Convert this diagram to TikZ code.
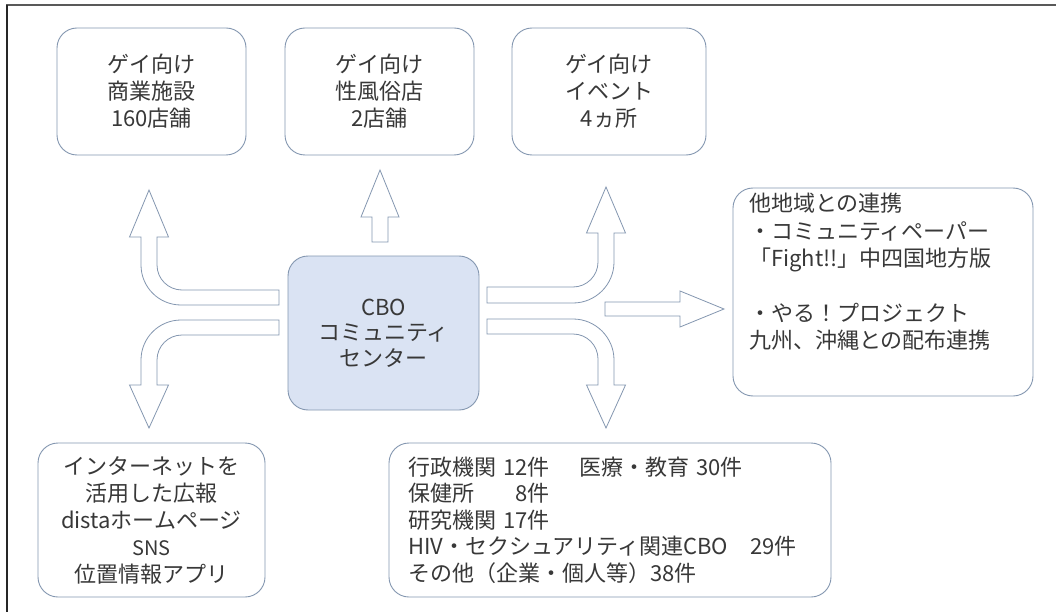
\documentclass[tikz,border=0pt]{standalone}
\usepackage{fontspec}
\setmainfont{Noto Sans CJK JP}
\definecolor{edge}{HTML}{8497B0}
\definecolor{cfill}{HTML}{DAE3F3}
\definecolor{txt}{HTML}{383838}
\begin{document}
\begin{tikzpicture}[x=1pt,y=-1pt,
  box/.style={draw=edge,line width=0.9pt,rounded corners=20pt,fill=white,
    inner sep=0pt,align=center,text=txt,font=\fontsize{22}{27}\selectfont},
  barrow/.style={draw=edge,line width=0.8pt,fill=white,line join=miter}]
\useasboundingbox (0,0) rectangle (1056,612);
\fill[white] (0,0) rectangle (1056,612);
% frame
\draw[gray!70!black,line width=1.5pt] (6,5) -- (1056,5);
\draw[black!85,line width=1.5pt] (7,5) -- (7,612);
% top boxes
\node[box,minimum width=189pt,minimum height=127pt] (b1) at (151.5,91.5) {ゲイ向け\\商業施設\\160店舗};
\node[box,minimum width=189pt,minimum height=127pt] (b2) at (379.5,91.5) {ゲイ向け\\性風俗店\\2店舗};
\node[box,minimum width=194pt,minimum height=127pt] (b3) at (609,91.5) {ゲイ向け\\イベント\\4ヵ所};
% center
\node[box,fill=cfill,minimum width=191pt,minimum height=154pt,font=\fontsize{22}{25.5}\selectfont] (c) at (383.5,333) {CBO\\コミュニティ\\センター};
% right box
\node[box,minimum width=300pt,minimum height=208pt] (r) at (883,292) {};
\node[anchor=north west,inner sep=0pt,align=left,text=txt,font=\fontsize{22}{27.4}\selectfont] (rt) at (749,193)
  {他地域との連携\\・コミュニティペーパー\\「Fight!!」中四国地方版\\[27.4pt]・やる！プロジェクト\\九州、沖縄との配布連携};
% bottom left
\node[box,minimum width=227pt,minimum height=154pt] (bl) at (151.5,520)
  {インターネットを\\活用した広報\\distaホームページ\\{\fontsize{20}{24}\selectfont SNS}\\位置情報アプリ};
% bottom right
\node[box,minimum width=442pt,minimum height=154pt,text width=404pt,align=left,inner xsep=19pt,font=\fontsize{22}{26.5}\selectfont] (br) at (610,520)
  {行政機関 12件　 医療・教育 30件\\保健所　 \phantom{1}8件\\研究機関 17件\\HIV・セクシュアリティ関連CBO　29件\\その他（企業・個人等）38件};
% block arrows
\draw[barrow] (372,242) -- (372,217) -- (361,217) -- (380,170) -- (399,217) -- (388,217) -- (388,242) -- cycle;
\draw[barrow] (279,290) -- (182,290) .. controls (168.2,290) and (157,278.8) .. (157,265) -- (157,237) -- (168.5,237) -- (149,190) -- (129.5,237) -- (141,237) -- (141,265) .. controls (141,287.1) and (158.9,305) .. (181,305) -- (279,305) -- cycle;
\draw[barrow] (279,320) -- (181,320) .. controls (158.9,320) and (141,337.9) .. (141,360) -- (141,385) -- (129.5,385) -- (149,428) -- (168.5,385) -- (157,385) -- (157,360) .. controls (157,346.2) and (168.2,335) .. (182,335) -- (279,335) -- cycle;
\draw[barrow] (487,287) -- (573,287) .. controls (586.8,287) and (598,275.8) .. (598,262) -- (598,233) -- (586.5,233) -- (606,187) -- (625.5,233) -- (614,233) -- (614,262) .. controls (614,284.6) and (595.6,303) .. (573,303) -- (487,303) -- cycle;
\draw[barrow] (487,319) -- (573,319) .. controls (595.6,319) and (614,337.4) .. (614,360) -- (614,385) -- (625.5,385) -- (606,428) -- (586.5,385) -- (598,385) -- (598,359) .. controls (598,345.2) and (586.8,334) .. (573,334) -- (487,334) -- cycle;
\draw[barrow] (605,302) -- (680,302) -- (680,291) -- (724,309) -- (680,327) -- (680,316) -- (605,316) -- cycle;
\end{tikzpicture}
\end{document}
